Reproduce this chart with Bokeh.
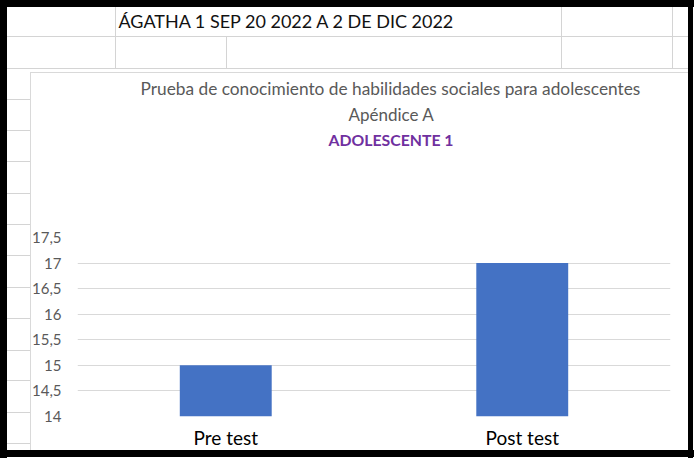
from bokeh.plotting import figure
from bokeh.models import Range1d, FixedTicker, Title
from bokeh.embed import file_html
from bokeh.resources import INLINE

# ---- data ----
categories = ["Pre test", "Post test"]
scores = [15, 17]
tick_values = [14, 14.5, 15, 15.5, 16, 16.5, 17, 17.5]
tick_labels = ["14", "14,5", "15", "15,5", "16", "16,5", "17", "17,5"]

header_text = "ÁGATHA 1 SEP 20 2022 A 2 DE DIC 2022"
title_line1 = "Prueba de conocimiento de habilidades sociales para adolescentes"
title_line2 = "Apéndice A"
title_line3 = "ADOLESCENTE 1"

FONT = "Lato"
GRID = "#d9d9d9"

W, H = 694, 458
BL, BR, BT, BB = 77, 24, 237, 42

p = figure(width=W, height=H, x_range=categories, y_range=Range1d(14, 17.5),
           output_backend="svg", toolbar_location=None,
           min_border_left=BL, min_border_right=BR, min_border_top=BT, min_border_bottom=BB)
p.x_range.range_padding = 0
p.outline_line_color = None
p.background_fill_color = "white"
p.border_fill_alpha = 0
p.title.visible = False

p.vbar(x=categories, top=scores, bottom=14, width=0.31, fill_color="#4472C4", line_color=None)

yax = p.yaxis[0]
yax.ticker = FixedTicker(ticks=tick_values)
yax.major_label_overrides = {float(v): s for v, s in zip(tick_values, tick_labels)}
yax.axis_line_color = None
yax.major_tick_line_color = None
yax.minor_tick_line_color = None
yax.major_label_standoff = 10
yax.major_label_text_font = FONT
yax.major_label_text_font_size = "15px"
yax.major_label_text_color = "#595959"

xax = p.xaxis[0]
xax.axis_line_color = None
xax.major_tick_line_color = None
xax.minor_tick_line_color = None
xax.major_label_standoff = 3
xax.major_label_text_font = FONT
xax.major_label_text_font_size = "19px"
xax.major_label_text_color = "#000000"

p.xgrid.grid_line_color = None
p.ygrid.grid_line_color = GRID
p.ygrid.grid_line_width = 1


def title(text, size, color, offset, standoff, bold=False):
    p.add_layout(Title(text=text, align="left", offset=offset, standoff=standoff,
                       text_font=FONT, text_font_size=size,
                       text_font_style="bold" if bold else "normal",
                       text_color=color), "above")


# stacked upward from the plot frame
title(" ", "1px", "#ffffff", 0, 83.3)                       # spacing below the titles
title(title_line3, "15.8px", "#7030A0", 251, 4, bold=True)
title(title_line2, "17px", "#595959", 271, 0.6)
title(title_line1, "17.3px", "#595959", 63, 4.2)
title(" ", "1px", "#ffffff", 0, 38.5)                       # spacing below the sheet header
title(header_text, "18px", "#111111", 41, 2)

# spreadsheet background (cell lines, chart box edge, black frame) via CSS
rects = []
CELL = "#d4d4d4"
rects += [("#000", 0, 0, 7, 458), ("#000", 0, 0, 694, 7),
          ("#000", 688, 0, 5, 458), ("#000", 0, 450, 694, 7)]
rects += [(CELL, 7, 36, 681, 1), (CELL, 7, 68, 681, 1),
          (CELL, 115, 7, 1, 61), (CELL, 226, 36, 1, 32),
          (CELL, 561, 7, 1, 61), (CELL, 672, 7, 1, 61)]
for yy in [99, 130, 161, 193, 224, 255, 287, 318, 350, 380, 412, 443]:
    rects.append((CELL, 7, yy, 23, 1))
rects += [("#d9d9d9", 30, 72, 658, 1), ("#d9d9d9", 30, 72, 1, 378)]
layers = ["linear-gradient({c},{c}) {x}px {y}px / {w}px {h}px no-repeat".format(c=c, x=x, y=y, w=w, h=h)
          for c, x, y, w, h in rects]
p.styles = {"background": ", ".join(layers) + ", #ffffff"}

open("out.html", "w").write(file_html(p, INLINE))
